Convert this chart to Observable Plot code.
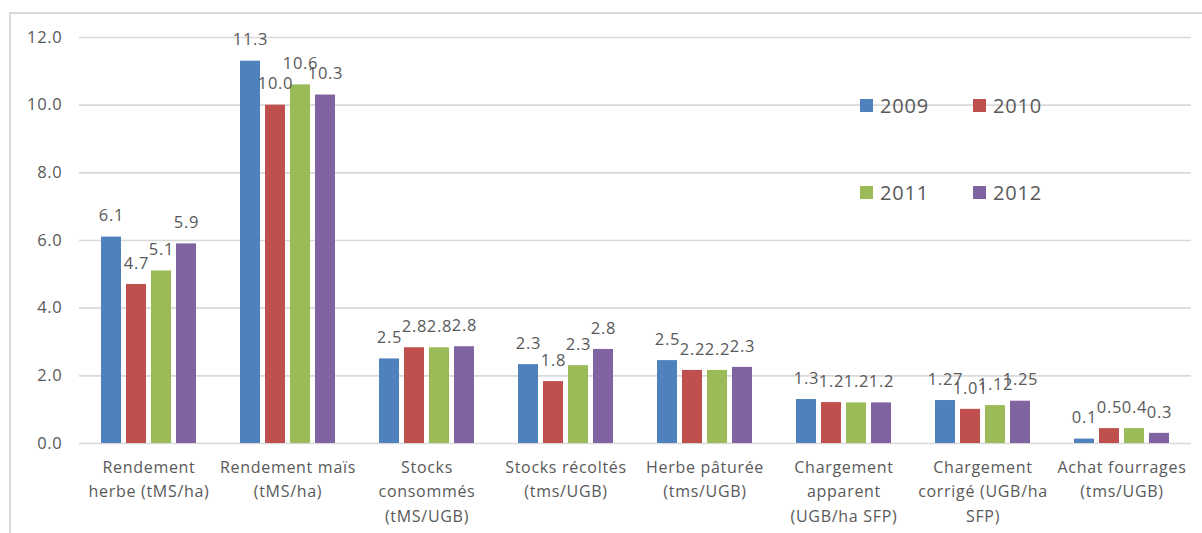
<!DOCTYPE html>
<html><head><meta charset="utf-8">
<script src="https://cdn.jsdelivr.net/npm/d3@7"></script>
<script src="https://cdn.jsdelivr.net/npm/@observablehq/plot@0.6"></script>
<style>
body{margin:0;background:#fff;}
#wrap{position:relative;width:1202px;height:533px;overflow:hidden;}
#frame{position:absolute;left:9px;top:12px;width:1200px;height:530px;border-left:2px solid #d9d9d9;border-top:2px solid #d9d9d9;}
#chart{position:absolute;left:0;top:0;}
#chart svg text{letter-spacing:0.7px;}
#legend{position:absolute;left:860px;top:90px;display:grid;grid-template-columns:113px 100px;row-gap:57px;font-family:"Open Sans";font-size:20px;color:#595959;letter-spacing:0.8px;}
.item{display:flex;align-items:center;height:30px;}
.sw{width:13px;height:13px;margin-right:7px;}
</style>
</head><body>
<div id="wrap"><div id="frame"></div><div id="chart"></div><div id="legend"></div></div>
<script>
const categories = [
  "Rendement\nherbe (tMS/ha)",
  "Rendement maïs\n(tMS/ha)",
  "Stocks\nconsommés\n(tMS/UGB)",
  "Stocks récoltés\n(tms/UGB)",
  "Herbe pâturée\n(tms/UGB)",
  "Chargement\napparent\n(UGB/ha SFP)",
  "Chargement\ncorrigé (UGB/ha\nSFP)",
  "Achat fourrages\n(tms/UGB)"
];
const years = ["2009", "2010", "2011", "2012"];
const colors = ["#4F81BD", "#C0504D", "#9BBB59", "#8064A2"];
const v2009 = [6.1, 11.3, 2.5, 2.33, 2.45, 1.3, 1.27, 0.13];
const v2010 = [4.7, 10.0, 2.83, 1.83, 2.16, 1.21, 1.01, 0.44];
const v2011 = [5.1, 10.6, 2.83, 2.3, 2.16, 1.2, 1.12, 0.44];
const v2012 = [5.9, 10.3, 2.86, 2.78, 2.25, 1.2, 1.25, 0.3];
const l2009 = ["6.1", "11.3", "2.5", "2.3", "2.5", "1.3", "1.27", "0.1"];
const l2010 = ["4.7", "10.0", "2.8", "1.8", "2.2", "1.2", "1.01", "0.5"];
const l2011 = ["5.1", "10.6", "2.8", "2.3", "2.2", "1.2", "1.12", "0.4"];
const l2012 = ["5.9", "10.3", "2.8", "2.8", "2.3", "1.2", "1.25", "0.3"];
const yTicks = [0, 2, 4, 6, 8, 10, 12];

const series = [v2009, v2010, v2011, v2012];
const labels = [l2009, l2010, l2011, l2012];
const data = categories.flatMap((c, i) => years.map((y, j) => ({cat: c, year: y, value: series[j][i], label: labels[j][i]})));

const chart = Plot.plot({
  width: 1202, height: 533,
  marginLeft: 79, marginRight: 11, marginTop: 37, marginBottom: 90,
  style: {fontFamily: "Open Sans", fontSize: "16px", color: "#595959", background: "transparent"},
  fx: {domain: categories, padding: 0, label: null},
  x: {domain: years, paddingInner: 0.22, paddingOuter: 0.825, axis: null},
  y: {domain: [0, 12], label: null},
  color: {domain: years, range: colors},
  marks: [
    Plot.ruleY(yTicks, {stroke: "#d9d9d9", strokeWidth: 1.6}),
    Plot.barY(data, {fx: "cat", x: "year", y: "value", fill: "year"}),
    Plot.text(data, {fx: "cat", x: "year", y: "value", text: "label", dy: -21, fill: "#595959", fontSize: 16.5}),
    Plot.axisY(yTicks, {tickSize: 0, tickPadding: 17, tickFormat: d => d.toFixed(1), fontSize: 16.5, label: null}),
    Plot.axisFx({anchor: "bottom", tickSize: 0, tickPadding: 12, lineHeight: 1.53, fontSize: 16, label: null})
  ]
});
document.getElementById("chart").appendChild(chart);

const legend = document.getElementById("legend");
years.forEach((y, j) => {
  const it = document.createElement("div");
  it.className = "item";
  const sw = document.createElement("span");
  sw.className = "sw";
  sw.style.background = colors[j];
  it.appendChild(sw);
  it.appendChild(document.createTextNode(y));
  legend.appendChild(it);
});
</script>
</body></html>
